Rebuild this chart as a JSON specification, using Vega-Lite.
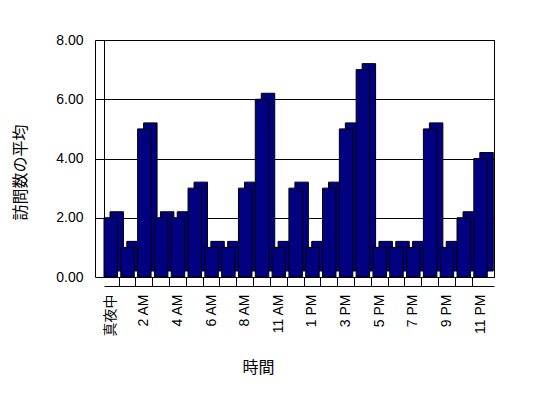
{
  "$schema": "https://vega.github.io/schema/vega-lite/v6.json",
  "width": 390,
  "height": 237,
  "autosize": {"type": "none"},
  "padding": {"left": 104, "top": 40, "right": 54, "bottom": 121},
  "background": "white",
  "config": {
    "font": "Liberation Sans, Noto Sans CJK JP",
    "view": {"stroke": "black", "strokeWidth": 1},
    "axis": {
      "labelColor": "black",
      "titleColor": "black",
      "titleFontWeight": "normal",
      "labelFont": "Liberation Sans, Noto Sans CJK JP",
      "titleFont": "Noto Sans CJK JP"
    }
  },
  "data": {
    "values": [
      {"hour": "真夜中", "visits": 2},
      {"hour": "1 AM", "visits": 1},
      {"hour": "2 AM", "visits": 5},
      {"hour": "3 AM", "visits": 2},
      {"hour": "4 AM", "visits": 2},
      {"hour": "5 AM", "visits": 3},
      {"hour": "6 AM", "visits": 1},
      {"hour": "7 AM", "visits": 1},
      {"hour": "8 AM", "visits": 3},
      {"hour": "9 AM", "visits": 6},
      {"hour": "11 AM", "visits": 1},
      {"hour": "12 PM", "visits": 3},
      {"hour": "1 PM", "visits": 1},
      {"hour": "2 PM", "visits": 3},
      {"hour": "3 PM", "visits": 5},
      {"hour": "4 PM", "visits": 7},
      {"hour": "5 PM", "visits": 1},
      {"hour": "6 PM", "visits": 1},
      {"hour": "7 PM", "visits": 1},
      {"hour": "8 PM", "visits": 5},
      {"hour": "9 PM", "visits": 1},
      {"hour": "10 PM", "visits": 2},
      {"hour": "11 PM", "visits": 4}
    ]
  },
  "layer": [
    {
      "mark": {"type": "bar", "color": "#000080", "stroke": "black", "strokeWidth": 1, "xOffset": 6, "yOffset": -6},
      "encoding": {
        "x": {
          "field": "hour", "type": "nominal", "sort": null,
          "scale": {"paddingInner": 0.2, "paddingOuter": 0.2, "align": 0},
          "axis": {
            "orient": "bottom",
            "title": null,
            "labels": false,
            "domain": false,
            "ticks": true,
            "tickSize": 9,
            "tickColor": "black",
            "bandPosition": -0.125,
            "values": ["1 AM","2 AM","3 AM","4 AM","5 AM","6 AM","7 AM","8 AM","9 AM","11 AM","12 PM","1 PM","2 PM","3 PM","4 PM","5 PM","6 PM","7 PM","8 PM","9 PM","10 PM","11 PM"]
          }
        },
        "y": {
          "field": "visits", "type": "quantitative",
          "scale": {"domain": [0, 8]},
          "axis": {
            "orient": "left",
            "offset": 9,
            "title": null,
            "labels": false,
            "ticks": false,
            "grid": false,
            "domain": true,
            "domainColor": "black"
          }
        }
      }
    },
    {
      "mark": {"type": "bar", "color": "#000080", "stroke": "black", "strokeWidth": 1},
      "encoding": {
        "x": {
          "field": "hour", "type": "nominal", "sort": null,
          "axis": {
            "orient": "bottom",
            "offset": 9,
            "title": "時間",
            "titleFontSize": 16,
            "titlePadding": 24,
            "titleX": 154,
            "labelAngle": -90,
            "labelFontSize": 14,
            "labelPadding": 8,
            "ticks": false,
            "domain": true,
            "domainColor": "black",
            "values": ["真夜中","2 AM","4 AM","6 AM","8 AM","11 AM","1 PM","3 PM","5 PM","7 PM","9 PM","11 PM"]
          }
        },
        "y": {
          "field": "visits", "type": "quantitative",
          "axis": {
            "orient": "left",
            "title": "訪問数の平均",
            "titleFontSize": 16,
            "titlePadding": 27,
            "titleY": 132,
            "format": ".2f",
            "values": [0, 2, 4, 6, 8],
            "labelFontSize": 14,
            "labelPadding": 12,
            "tickSize": 9,
            "tickColor": "black",
            "domain": false,
            "grid": true,
            "gridColor": "black",
            "gridOpacity": 1,
            "gridWidth": 1
          }
        }
      }
    }
  ],
  "resolve": {"axis": {"x": "independent", "y": "independent"}}
}
